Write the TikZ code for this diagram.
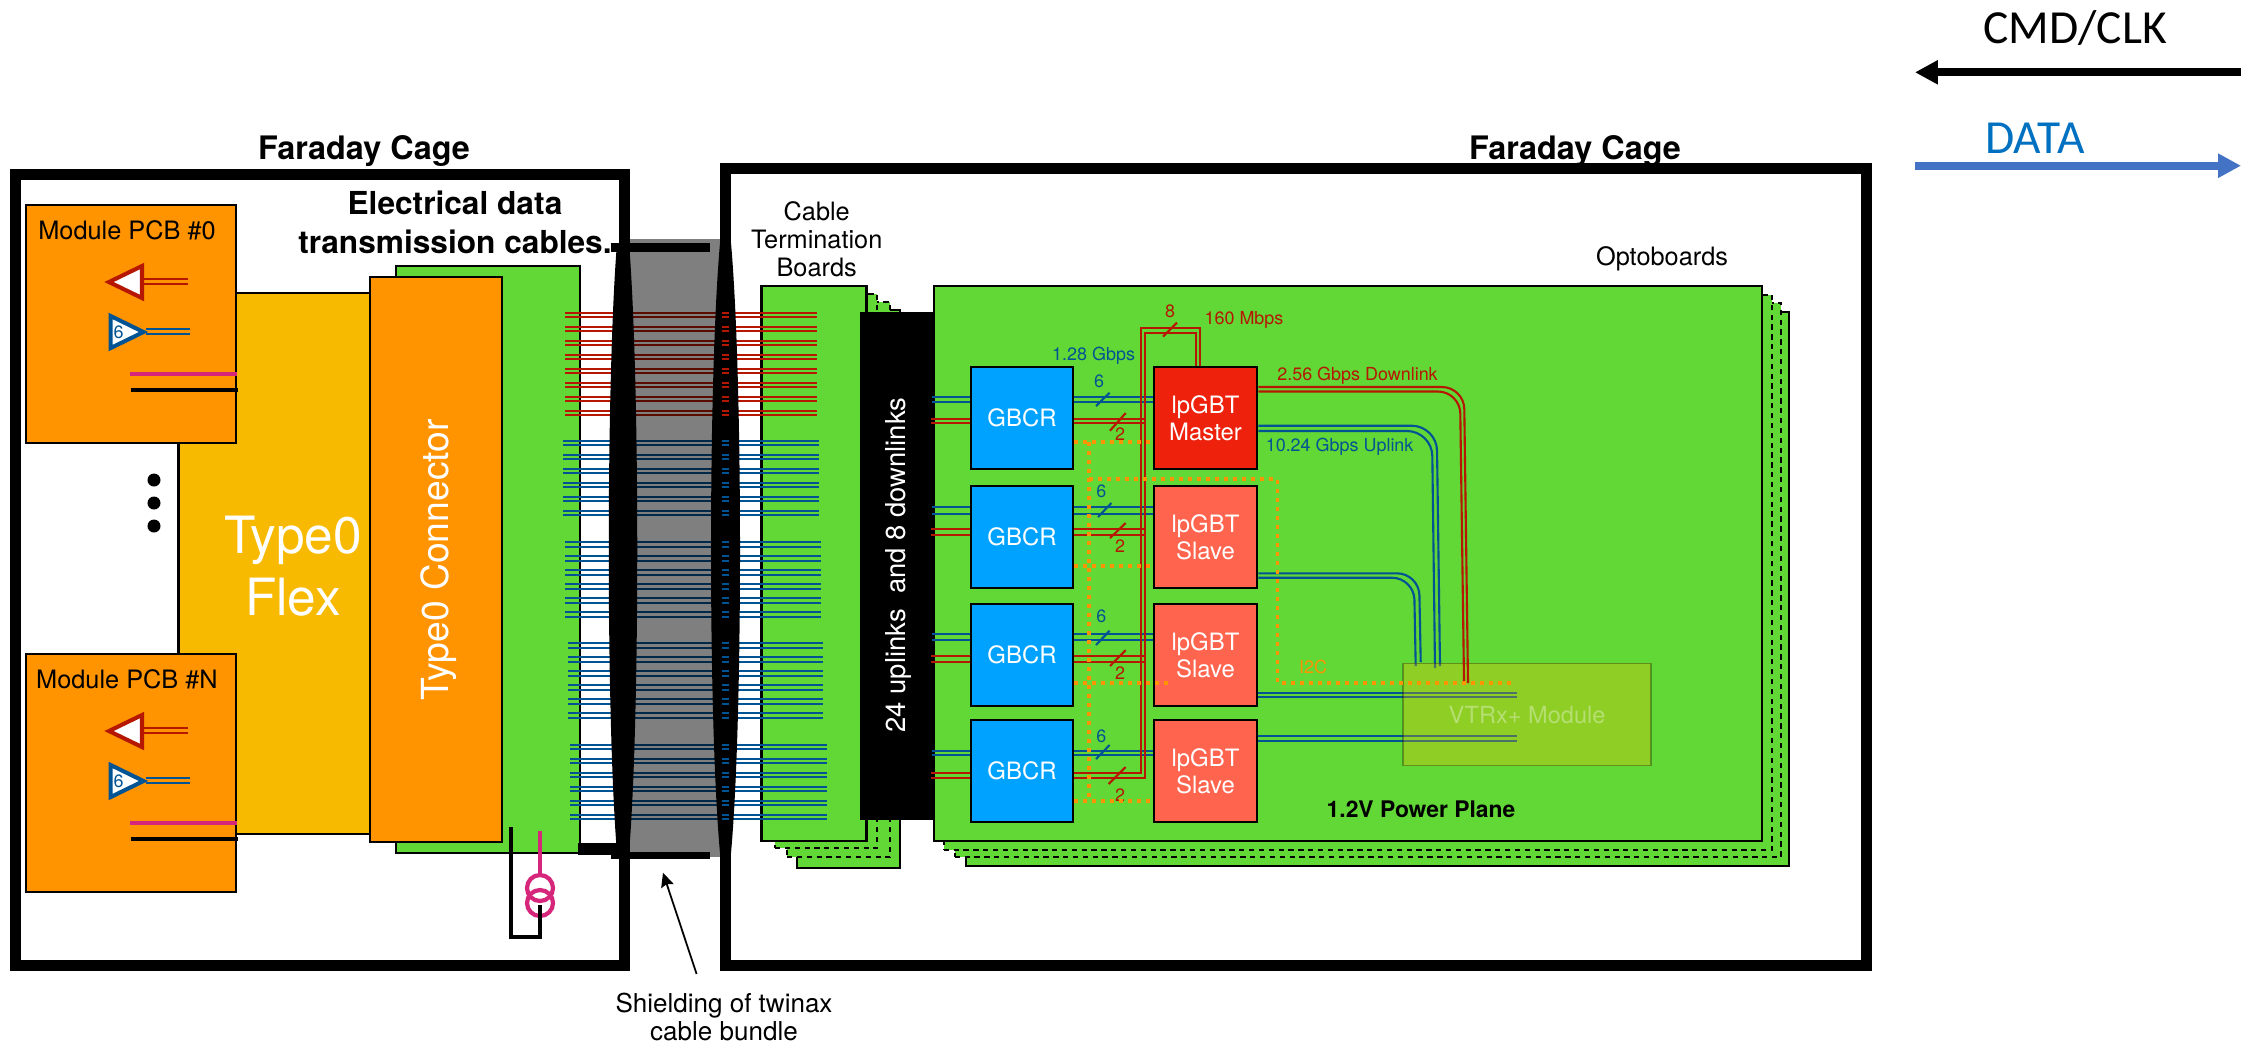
\documentclass[tikz,border=0pt]{standalone}
\usepackage{fontspec}
\setmainfont{TeX Gyre Heros}
\newfontfamily\legendfont{Carlito}
\usepackage{xcolor}
\usetikzlibrary{arrows.meta, calc, positioning}

\definecolor{boardgreen}{HTML}{61D836}
\definecolor{flexyellow}{HTML}{F8BA00}
\definecolor{pcborange}{HTML}{FF9300}
\definecolor{gbcrblue}{HTML}{00A2FF}
\definecolor{masterred}{HTML}{EE220C}
\definecolor{slavered}{HTML}{FF644E}
\definecolor{wirered}{HTML}{B51700}
\definecolor{wireblue}{HTML}{005493}
\definecolor{coilpink}{HTML}{D5267B}
\definecolor{datablue}{HTML}{4472C4}
\definecolor{datatext}{HTML}{0070C0}

\begin{document}
\begin{tikzpicture}[
  x=0.01cm, y=-0.01cm,
  box/.style={draw, rectangle, inner sep=0pt, line width=0.6pt},
  cage/.style={draw, rectangle, inner sep=0pt, line width=3.13pt},
  board/.style={box, fill=boardgreen},
  layer/.style={board, dash pattern=on 1.5pt off 1.3pt},
  chip/.style={draw, rectangle, inner sep=0pt, line width=0.8pt, minimum width=1.03cm, minimum height=1.02cm, text=white, align=center, font=\fontsize{6.8}{7.8}\selectfont},
  txt/.style={inner sep=0pt, align=center, font=\fontsize{7.2}{7.9}\selectfont},
  bold/.style={inner sep=0pt, align=center, font=\fontsize{9.2}{11.1}\selectfont\bfseries},
  wlabel/.style={inner sep=0pt, font=\fontsize{5.1}{6}\selectfont},
  redwire/.style={wirered, line width=0.6pt},
  bluewire/.style={wireblue, line width=0.6pt},
  i2c/.style={pcborange, line width=1.1pt, dash pattern=on 1.1pt off 1.46pt},
  heavy/.style={black, line width=1.15pt},
  coil/.style={draw=coilpink, circle, inner sep=0pt, line width=1.2pt, minimum size=0.26cm}
]
\useasboundingbox (0,0) rectangle (2252,1041);

% Cages
\node[cage, minimum width=6.09cm, minimum height=7.9cm] (cageleft) at (320,570) {};
\node[cage, minimum width=11.4cm, minimum height=7.96cm] (cageright) at (1296,567) {};
\node[bold] (faradayleft) at (364,151) {Faraday Cage};
\node[bold] (faradayright) at (1575,151) {Faraday Cage};
\node[bold, font=\fontsize{9}{11.1}\selectfont\bfseries] (cables) at (455,222) {Electrical data\\transmission cables.};

% Flex side
\node[board, minimum width=1.84cm, minimum height=5.87cm] (paddle) at (488,559.5) {};
\node[box, fill=flexyellow, minimum width=1.91cm, minimum height=5.41cm] (flex) at (274,563.5) {};
\node[box, fill=pcborange, minimum width=1.32cm, minimum height=5.65cm] (connector) at (436,559.5) {};
\node[inner sep=0pt, text=white, align=center, font=\fontsize{14.6}{17.6}\selectfont] (flexname) at (293,566) {Type0\\Flex};
\node[inner sep=0pt, text=white, rotate=90, font=\fontsize{10.6}{12}\selectfont] (connname) at (439,560) {Type0 Connector};
\foreach \y in {480,503,526}
  \node[fill=black, circle, inner sep=0pt, minimum size=0.13cm] (dot\y) at (154,\y) {};

% Modules
\foreach \m/\dy in {0/0,N/449} {
  \begin{scope}[shift={(0,\dy)}]
    \node[box, fill=pcborange, minimum width=2.1cm, minimum height=2.38cm] (pcb\m) at (131,324) {};
    \node[txt] (pcbname\m) at (127,230) {Module PCB \#\m};
    \draw[wirered, line width=1.15pt, fill=white] (109,282) -- (142,266) -- (142,298) -- cycle;
    \draw[wireblue, line width=1.15pt, fill=white] (110.7,316) -- (110.7,348) -- (143.5,332) -- cycle;
    \node[wlabel, text=wireblue] (six\m) at (118.5,332) {6};
    \draw[redwire] (144,279) -- (188,279);
    \draw[redwire] (144,284) -- (188,284);
    \draw[bluewire] (146,329) -- (190,329);
    \draw[bluewire] (146,334) -- (190,334);
    \draw[coilpink, line width=1.15pt] (130,374) -- (pcb\m.east |- 0,374);
    \draw[heavy] (131,390) -- (238,390);
  \end{scope}
}

% Coil
\node[coil] (coilup) at (540,888) {};
\node[coil] (coildown) at (540,903) {};
\coordinate (coilin) at (540,831);
\coordinate (gndin) at (511,827);
\coordinate (gndturn) at (511,937);
\coordinate (gndend) at (540,905);
\draw[coilpink, line width=1pt] (coilin) -- (coilup);
\draw[heavy] (gndin) -- (gndturn) -- (gndend |- gndturn) -- (gndend);

% Termination boards
\node[board, minimum width=1.03cm, minimum height=5.58cm] (term3) at (848.5,589) {};
\node[layer, minimum width=1.03cm, minimum height=5.55cm] (term2) at (838.5,579.5) {};
\node[layer, minimum width=1.02cm, minimum height=5.54cm] (term1) at (826,571) {};
\node[board, minimum width=1.05cm, minimum height=5.55cm] (term0) at (814,563.5) {};
\node[txt] (termname) at (816.7,239) {Cable\\Termination\\Boards};

% Optoboards
\node[board, minimum width=8.23cm, minimum height=5.54cm] (opto3) at (1377.5,589) {};
\node[layer, minimum width=8.26cm, minimum height=5.54cm] (opto2) at (1368,580) {};
\node[layer, minimum width=8.28cm, minimum height=5.55cm] (opto1) at (1358,572.5) {};
\node[board, minimum width=8.28cm, minimum height=5.55cm] (opto0) at (1348,563.5) {};
\node[txt] (optoname) at (1662,259) {Optoboards};
\node[wlabel, font=\fontsize{6.5}{7}\selectfont\bfseries] (power) at (1421,809) {1.2V Power Plane};

% Cable bundles
\foreach \wire/\xl/\xr/\ytop/\last in {redwire/565/817/313/7, bluewire/563/819/441/5, bluewire/565/820.5/542.3/5, bluewire/568/823/643.3/5, bluewire/570/827/744.7/5}
  \foreach \i in {0,...,\last} {
    \draw[\wire] (\xl,{\ytop+14*\i}) -- (\xr,{\ytop+14*\i});
    \draw[\wire] (\xl,{\ytop+14*\i+4.4}) -- (\xr,{\ytop+14*\i+4.4});
  }

% Shield
\node[rectangle, fill=black, fill opacity=0.5, inner sep=0pt, minimum width=1.01cm, minimum height=6.18cm] (shield) at (672,548) {};
\fill[black] (617,243) .. controls (606,380) and (606,720) .. (617,853) -- (629,853) .. controls (640,720) and (640,380) .. (629,243) -- cycle;
\fill[black] (720,243) .. controls (708,380) and (708,720) .. (720,853) -- (731,853) .. controls (743,720) and (743,380) .. (731,243) -- cycle;
\foreach \wire/\ytop/\last in {redwire/313/7, bluewire/441/5, bluewire/542.3/5, bluewire/643.3/5, bluewire/744.7/5}
  \foreach \i in {0,...,\last} {
    \draw[\wire] (722,{\ytop+14*\i}) -- (729,{\ytop+14*\i});
    \draw[\wire] (722,{\ytop+14*\i+4.4}) -- (729,{\ytop+14*\i+4.4});
  }
\fill[black] (611,243) rectangle (710,252);
\fill[black] (611,852) rectangle (710,859);
\fill[black] (578,843) rectangle (620,855);

% Uplink block
\node[rectangle, fill=black, inner sep=0pt, minimum width=0.75cm, minimum height=5.08cm] (block) at (897.5,566) {};
\node[inner sep=0pt, text=white, rotate=90, font=\fontsize{7.8}{9}\selectfont] (blockname) at (898,565) {24 uplinks~~and 8 downlinks};

% Chips
\foreach \n/\y in {1/418,2/537,3/655,4/771}
  \node[chip, fill=gbcrblue, minimum width=1.02cm] (gbcr\n) at (1022,\y) {GBCR};
\node[chip, fill=masterred] (master) at (1205.5,418) {lpGBT\\Master};
\node[chip, fill=slavered] (slave2) at (1205.5,537) {lpGBT\\Slave};
\node[chip, fill=slavered] (slave3) at (1205.5,655) {lpGBT\\Slave};
\node[chip, fill=slavered] (slave4) at (1205.5,771) {lpGBT\\Slave};

% Chip links
\foreach \n/\to/\ba/\bb/\ra/\rb in {1/master/397.3/401.7/419/423.3, 2/slave2/507.3/513.7/529.3/535, 3/slave3/634.3/640/656/661.7, 4/slave4/750.7/755/773/778.3} {
  \draw[bluewire] (gbcr\n.west |- 0,\ba) -- (932,\ba);
  \draw[bluewire] (gbcr\n.west |- 0,\bb) -- (932,\bb);
  \draw[redwire] (gbcr\n.west |- 0,\ra) -- (931,\ra);
  \draw[redwire] (gbcr\n.west |- 0,\rb) -- (931,\rb);
  \draw[bluewire] (gbcr\n.east |- 0,\ba) -- (\to.west |- 0,\ba);
  \draw[bluewire] (gbcr\n.east |- 0,\bb) -- (\to.west |- 0,\bb);
}
\foreach \n/\ra/\rb in {1/419/423.3, 2/529.3/535, 3/656/661.7} {
  \draw[redwire] (gbcr\n.east |- 0,\ra) -- (1145,\ra);
  \draw[redwire] (gbcr\n.east |- 0,\rb) -- (1145,\rb);
}
\draw[redwire] (gbcr4.east |- 0,773) -- (1141,773) -- (1141,328) -- (1200,328) -- (master.north -| 1200,0);
\draw[redwire] (gbcr4.east |- 0,778.3) -- (1145,778.3) -- (1145,333) -- (1196,333) -- (master.north -| 1196,0);

% Uplinks
\draw[bluewire, rounded corners=0.25cm] (master.east |- 0,425.7) -- (1436.7,425.7) -- (1440,666);
\draw[bluewire, rounded corners=0.25cm] (master.east |- 0,431) -- (1432,431) -- (1435,668);
\draw[bluewire, rounded corners=0.22cm] (slave2.east |- 0,573.3) -- (1419,573.3) -- (1420.7,662);
\draw[bluewire, rounded corners=0.22cm] (slave2.east |- 0,577.7) -- (1414,577.7) -- (1415.7,666);
\draw[bluewire] (slave3.east |- 0,693.3) -- (1516.7,693.3);
\draw[bluewire] (slave3.east |- 0,697.3) -- (1516.7,697.3);
\draw[bluewire] (slave4.east |- 0,735.7) -- (1516.7,735.7);
\draw[bluewire] (slave4.east |- 0,740.7) -- (1516.7,740.7);

% VTRx
\node[rectangle, draw=black, draw opacity=0.3, fill=flexyellow, fill opacity=0.3, line width=0.5pt, inner sep=0pt, minimum width=2.48cm, minimum height=1.02cm] (vtrx) at (1527,714.5) {};
\node[inner sep=0pt, text=white, text opacity=0.35, font=\fontsize{6.7}{7}\selectfont] (vtrxname) at (1527,715) {VTRx+ Module};

% Downlink
\draw[redwire, rounded corners=0.22cm] (master.east |- 0,387) -- (1464,387) -- (1468,683);
\draw[redwire, rounded corners=0.22cm] (master.east |- 0,391.5) -- (1460,391.5) -- (1464,681);

% Width marks
\foreach \xa/\ya/\xb/\yb in {1096/406/1109.6/392.7, 1098/517/1111.4/503, 1096/645/1109.6/630.7, 1096/759/1109.6/745}
  \draw[bluewire] (\xa,\ya) -- (\xb,\yb);
\foreach \xa/\ya/\xb/\yb in {1110/430.7/1125.7/413, 1110/538/1125.7/523, 1110/666/1125.7/650, 1108.6/784/1125.7/767, 1163/336.7/1177/322.7}
  \draw[redwire] (\xa,\ya) -- (\xb,\yb);
\foreach \n/\x/\y in {1/1099/381.7, 2/1101.4/491.7, 3/1101.4/616.7, 4/1101.4/736}
  \node[wlabel, text=wireblue] (six\n) at (\x,\y) {6};
\foreach \n/\y in {1/434, 2/545.7, 3/672.7, 4/795}
  \node[wlabel, text=wirered] (two\n) at (1120,\y) {2};
\node[wlabel, text=wirered] (eight) at (1170,311.7) {8};
\node[wlabel, text=wirered] (rateslow) at (1244,320) {160 Mbps};
\node[wlabel, text=wireblue] (rategbcr) at (1093.6,356) {1.28 Gbps};
\node[wlabel, text=wirered] (ratedown) at (1357.5,376) {2.56 Gbps Downlink};
\node[wlabel, text=wireblue] (rateup) at (1339.6,446.7) {10.24 Gbps Uplink};

% I2C
\draw[i2c] (1089,441.7) -- (1089,800);
\draw[i2c] (gbcr1.east |- 0,441.7) -- (master.west |- 0,441.7);
\draw[i2c] (gbcr2.east |- 0,566) -- (slave2.west |- 0,566);
\draw[i2c] (gbcr3.east |- 0,683.3) -- (1169,683.3);
\draw[i2c] (gbcr4.east |- 0,801) -- (slave4.west |- 0,801);
\draw[i2c] (1089,479.3) -- (1277.5,479.3) -- (1277.5,682.7) -- (1511.7,682.7);
\node[wlabel, text=pcborange] (i2cname) at (1313,667) {I2C};

% Shielding note
\node[inner sep=0pt, align=center, font=\fontsize{7.4}{8}\selectfont] (shieldname) at (724,1017) {Shielding of twinax\\cable bundle};
\coordinate (shieldtip) at (663,872.7);
\coordinate (shieldtail) at (696.6,974);
\draw[-{Stealth[length=4pt,width=3.7pt,inset=0.6pt]}, line width=0.5pt] (shieldtail) -- (shieldtip);

% Legend
\node[inner sep=0pt, font=\legendfont\fontsize{13.5}{15}\selectfont] (cmdname) at (2075,28) {CMD/CLK};
\node[inner sep=0pt, text=datatext, font=\legendfont\fontsize{13.5}{15}\selectfont] (dataname) at (2035,138) {DATA};
\coordinate (cmdfrom) at (2241,72.3);
\coordinate (cmdto) at (1915,72.3);
\coordinate (datafrom) at (1915,165.7);
\coordinate (datato) at (2241,165.7);
\draw[-{Triangle[length=6.5pt,width=6.5pt]}, line width=2.28pt] (cmdfrom) -- (cmdto);
\draw[-{Triangle[length=6.5pt,width=6.5pt]}, line width=2.28pt, datablue] (datafrom) -- (datato);

\end{tikzpicture}
\end{document}
